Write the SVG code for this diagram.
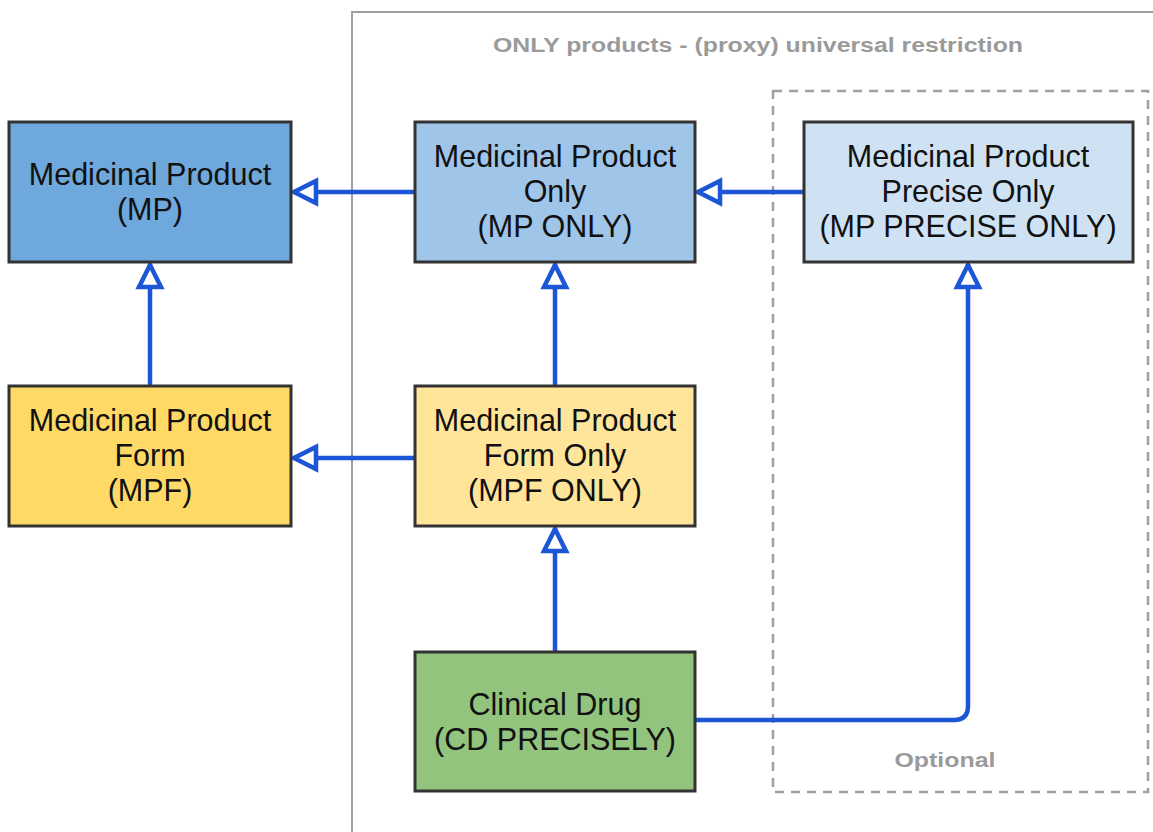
<svg xmlns="http://www.w3.org/2000/svg" width="1153" height="832" viewBox="0 0 1153 832">
<defs>
<style>
.node{stroke:#333;stroke-width:3}
.lbl{font-family:"Liberation Sans",Arial,sans-serif;font-size:30.5px;fill:#111;text-anchor:middle}
.grp{font-family:"Liberation Sans",Arial,sans-serif;font-weight:bold;font-size:21px;fill:#9a9a9a;text-anchor:middle}
.edge{fill:none;stroke:#1a56d6;stroke-width:4.5}
</style>
<marker id="tri" markerUnits="userSpaceOnUse" viewBox="-28 -16 32 32" refX="0" refY="0" markerWidth="32" markerHeight="32" orient="auto">
<path d="M-1,0 L-23,-11 L-23,11 Z" fill="#fff" stroke="#1a56d6" stroke-width="4.5"/>
</marker>
</defs>
<rect width="1153" height="832" fill="#fff"/>
<g id="container-only">
<rect x="352" y="12" width="900" height="900" fill="none" stroke="#a0a0a0" stroke-width="2"/>
<text class="grp" x="758" y="52" textLength="530" lengthAdjust="spacingAndGlyphs">ONLY products - (proxy) universal restriction</text>
</g>
<g id="container-optional">
<rect x="773" y="91" width="375" height="701" fill="none" stroke="#a0a0a0" stroke-width="2.5" stroke-dasharray="9 7"/>
<text class="grp" x="945" y="767" textLength="101" lengthAdjust="spacingAndGlyphs">Optional</text>
</g>
<g id="connectors">
<path class="edge" d="M415,192 H293" marker-end="url(#tri)"/>
<path class="edge" d="M804,192 H697" marker-end="url(#tri)"/>
<path class="edge" d="M150,386 V264" marker-end="url(#tri)"/>
<path class="edge" d="M415,458 H293" marker-end="url(#tri)"/>
<path class="edge" d="M555,386 V264" marker-end="url(#tri)"/>
<path class="edge" d="M555,652 V528" marker-end="url(#tri)"/>
<path class="edge" d="M695,720 H954 Q968,720 968,706 V264" marker-end="url(#tri)"/>
</g>
<g id="mp">
<rect class="node" x="9" y="122" width="282" height="140" fill="#6fa8dc"/>
<text class="lbl" x="150" y="185">Medicinal Product</text>
<text class="lbl" x="150" y="220">(MP)</text>
</g>
<g id="mp-only">
<rect class="node" x="415" y="122" width="280" height="140" fill="#9fc5e8"/>
<text class="lbl" x="555" y="167">Medicinal Product</text>
<text class="lbl" x="555" y="202">Only</text>
<text class="lbl" x="555" y="237">(MP ONLY)</text>
</g>
<g id="mp-precise-only">
<rect class="node" x="804" y="122" width="329" height="140" fill="#cfe2f3"/>
<text class="lbl" x="968" y="167">Medicinal Product</text>
<text class="lbl" x="968" y="202">Precise Only</text>
<text class="lbl" x="968" y="237">(MP PRECISE ONLY)</text>
</g>
<g id="mpf">
<rect class="node" x="9" y="386" width="282" height="140" fill="#ffd966"/>
<text class="lbl" x="150" y="431">Medicinal Product</text>
<text class="lbl" x="150" y="466">Form</text>
<text class="lbl" x="150" y="501">(MPF)</text>
</g>
<g id="mpf-only">
<rect class="node" x="415" y="386" width="280" height="140" fill="#ffe599"/>
<text class="lbl" x="555" y="431">Medicinal Product</text>
<text class="lbl" x="555" y="466">Form Only</text>
<text class="lbl" x="555" y="501">(MPF ONLY)</text>
</g>
<g id="cd">
<rect class="node" x="415" y="652" width="280" height="139" fill="#93c47d"/>
<text class="lbl" x="555" y="715">Clinical Drug</text>
<text class="lbl" x="555" y="750">(CD PRECISELY)</text>
</g>
</svg>
